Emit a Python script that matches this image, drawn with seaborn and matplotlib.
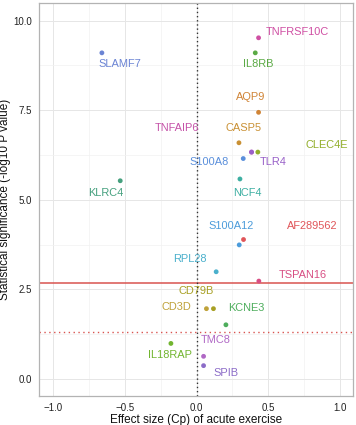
import numpy as np
import pandas as pd
import seaborn as sns
import matplotlib.pyplot as plt
from matplotlib.ticker import MultipleLocator

sns.set_style('whitegrid')
plt.rcParams['font.family'] = ['Liberation Sans', 'DejaVu Sans']
plt.rcParams['axes.unicode_minus'] = True

# data
genes = ['TNFAIP6', 'SLAMF7', 'KLRC4', 'TNFRSF10C', 'IL8RB', 'AQP9', 'CASP5',
         'TLR4', 'CLEC4E', 'S100A8', 'NCF4', 'S100A12', 'AF289562', 'RPL28',
         'TSPAN16', 'CD79B', 'CD3D', 'KCNE3', 'IL18RAP', 'TMC8', 'SPIB']
effect = [0.383, -0.662, -0.534, 0.432, 0.409, 0.432, 0.295,
          0.383, 0.427, 0.325, 0.302, 0.297, 0.327, 0.136,
          0.434, 0.117, 0.068, 0.204, -0.180, 0.048, 0.048]
logp = [6.33, 9.10, 5.53, 9.52, 9.10, 7.44, 6.59,
        6.33, 6.33, 6.15, 5.58, 3.74, 3.89, 2.99,
        2.73, 1.96, 1.96, 1.51, 0.99, 0.63, 0.37]
colors = ['#C552A8', '#6B84D4', '#45A07E', '#CF4FA3', '#5BAA45', '#D08436', '#C99033',
          '#9860C8', '#92AE2A', '#5A8FDB', '#3DAFA2', '#4C9CDB', '#E05559', '#4AB0CC',
          '#D84E83', '#A8A024', '#BFA23A', '#4DAD5C', '#72B530', '#B068C5', '#8C6CC8']
# label anchor positions (repelled labels)
label_x = [-0.138, -0.534, -0.632, 0.700, 0.427, 0.378, 0.327,
           0.532, 0.909, 0.087, 0.355, 0.241, 0.804, -0.05,
           0.741, -0.003, -0.145, 0.346, -0.185, 0.129, 0.206]
label_y = [7.00, 8.78, 5.19, 9.69, 8.79, 7.88, 7.00,
           6.06, 6.52, 6.06, 5.19, 4.28, 4.28, 3.35,
           2.90, 2.46, 2.01, 1.98, 0.68, 1.08, 0.17]

fdr_line = 2.68
p05_line = 1.30

df = pd.DataFrame({'gene': genes, 'effect': effect, 'logp': logp})
palette = dict(zip(genes, colors))

fig = plt.figure(figsize=(3.56, 4.25), dpi=100)
ax = fig.add_axes([0.11, 0.068, 0.881, 0.924])

ax.axhline(fdr_line, color='#D9534F', lw=1.1, zorder=1)
ax.axhline(p05_line, color='#D9534F', lw=1.0, ls=(0, (1, 2.5)), zorder=1)
ax.axvline(0, color='#333333', lw=1.0, ls=(0, (1, 2)), zorder=1)

sns.scatterplot(data=df, x='effect', y='logp', hue='gene', palette=palette,
                s=12, linewidth=0, legend=False, ax=ax, zorder=3)

for g, lx, ly, c in zip(genes, label_x, label_y, colors):
    ax.text(lx, ly, g, color=c, fontsize=7.9, ha='center', va='center', zorder=4)

ax.set_xlim(-1.10, 1.09)
ax.set_ylim(-0.48, 10.48)
ax.xaxis.set_major_locator(MultipleLocator(0.5))
ax.xaxis.set_minor_locator(MultipleLocator(0.25))
ax.yaxis.set_major_locator(MultipleLocator(2.5))
ax.yaxis.set_minor_locator(MultipleLocator(1.25))
ax.xaxis.set_major_formatter(plt.FuncFormatter(lambda v, p: ('%.1f' % v).replace('-', '\u2212')))
ax.yaxis.set_major_formatter(plt.FuncFormatter(lambda v, p: '%.1f' % v))
ax.grid(which='major', color='#E6E6E6', lw=0.7)
ax.grid(which='minor', color='#F2F2F2', lw=0.5)
for sp in ax.spines.values():
    sp.set_color('#B3B3B3')
    sp.set_linewidth(0.9)
ax.tick_params(which='major', length=3, width=0.7, color='#555555',
               labelsize=7, labelcolor='#222222', pad=2)
ax.tick_params(which='minor', length=0)

ax.set_xlabel('Effect size (Cp) of acute exercise', fontsize=8.5, labelpad=0.5, color='#111111')
ax.set_ylabel('Statistical significance (-log10 P value)', fontsize=8.5, labelpad=1.5, color='#111111')

plt.savefig('out.png', dpi=100)
